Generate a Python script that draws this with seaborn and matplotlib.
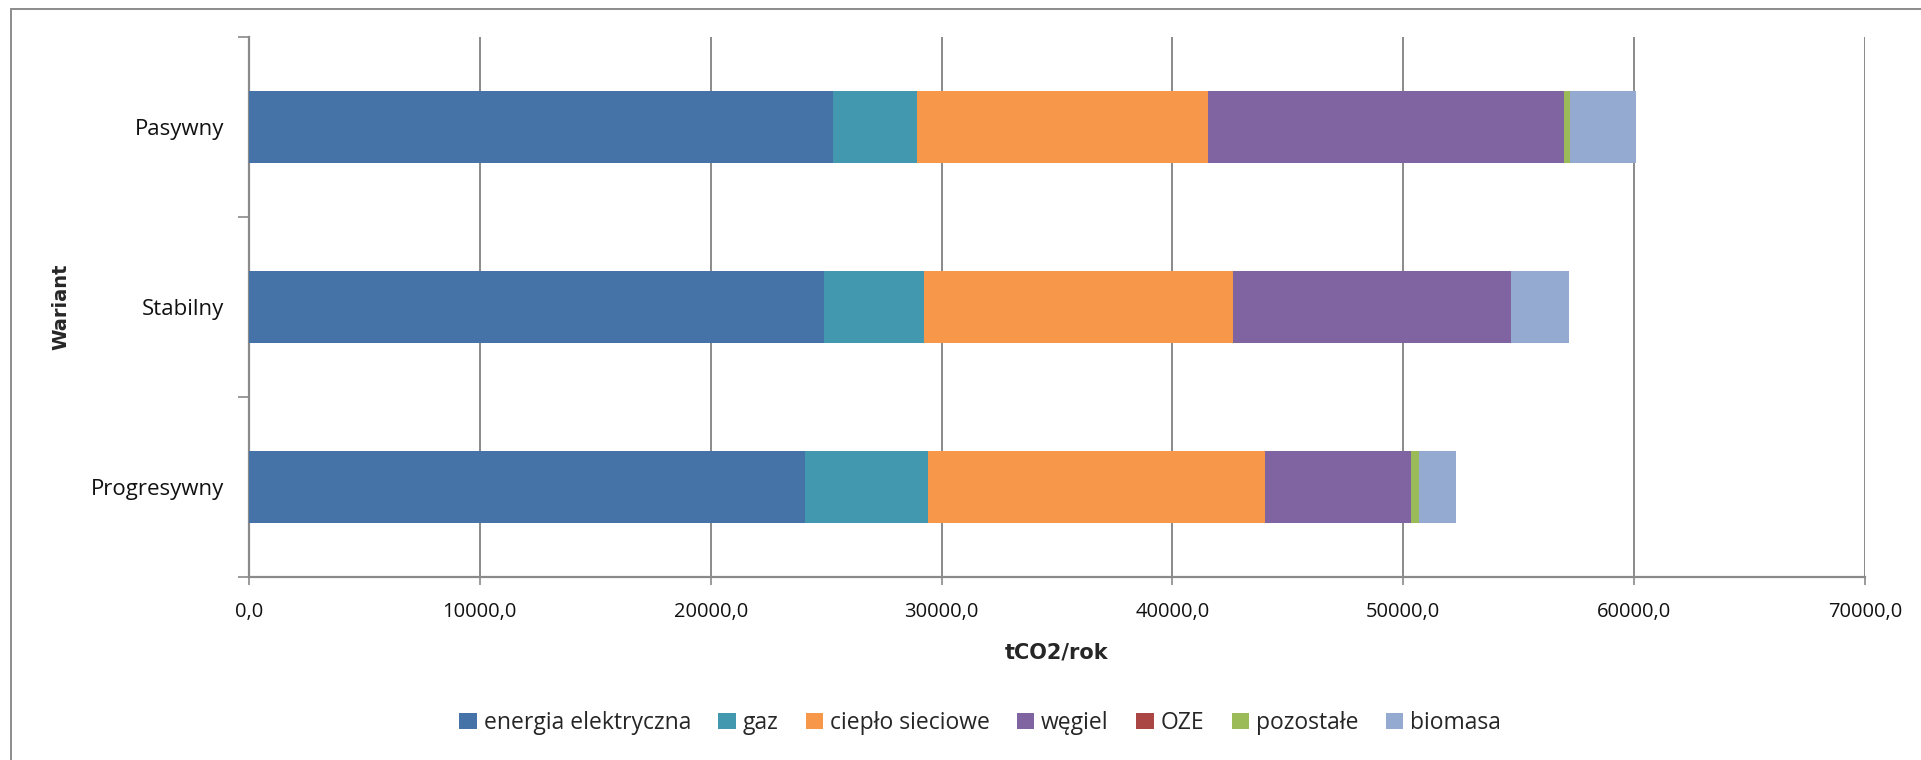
import numpy as np
import pandas as pd
import matplotlib
matplotlib.use("Agg")
import matplotlib.pyplot as plt
from matplotlib.patches import Rectangle, Patch
from matplotlib.ticker import FixedLocator, FuncFormatter
import seaborn as sns

# Emission data per scenario [tCO2/rok]
warianty = ["Pasywny", "Stabilny", "Progresywny"]
energia_elektryczna = [25290, 24920, 24090]
gaz = [3650, 4320, 5330]
cieplo_sieciowe = [12600, 13370, 14595]
wegiel = [15420, 12050, 6310]
oze = [0, 0, 0]
pozostale = [260, 0, 345]
biomasa = [2880, 2500, 1600]

nosniki = ["energia elektryczna", "gaz", "ciepło sieciowe", "węgiel", "OZE", "pozostałe", "biomasa"]
kolory = ["#4572A7", "#4198AF", "#F69749", "#8064A2", "#AA4643", "#9BBB59", "#95AAD0"]

df = pd.DataFrame({
    "Wariant": warianty,
    "energia elektryczna": energia_elektryczna,
    "gaz": gaz,
    "ciepło sieciowe": cieplo_sieciowe,
    "węgiel": wegiel,
    "OZE": oze,
    "pozostałe": pozostale,
    "biomasa": biomasa,
})
cum = df[nosniki].cumsum(axis=1)
cum["Wariant"] = df["Wariant"]

sns.set_theme(style="white")
plt.rcParams["font.family"] = ["Open Sans", "DejaVu Sans"]

fig = plt.figure(figsize=(19.21, 7.6), dpi=100)
ax = fig.add_axes([249 / 1921, 1 - 577 / 760, 1616 / 1921, 540 / 760])

# Stacked bars: draw cumulative totals from the outermost layer inward
for name, col in reversed(list(zip(nosniki, kolory))):
    sns.barplot(data=cum, x=name, y="Wariant", order=warianty, orient="y",
                color=col, width=0.4, linewidth=0, saturation=1, ax=ax, zorder=3)

ax.set_xlim(0, 70000)
ax.set_ylim(2.5, -0.5)

grid_col = "#8A8A8A"
ax.xaxis.set_major_locator(FixedLocator(np.arange(0, 70001, 10000)))
ax.xaxis.set_major_formatter(FuncFormatter(lambda v, p: f"{v:.1f}".replace(".", ",")))
ax.grid(axis="x", color=grid_col, linewidth=1.4, zorder=0)
ax.grid(axis="y", visible=False)

for s in ["top", "right"]:
    ax.spines[s].set_visible(False)
for s in ["left", "bottom"]:
    ax.spines[s].set_color(grid_col)
    ax.spines[s].set_linewidth(1.6)

ax.tick_params(axis="x", which="major", bottom=True, direction="out", length=6,
               width=1.2, color=grid_col, pad=12, labelsize=14.5, labelcolor="#111111")
ax.yaxis.set_minor_locator(FixedLocator([-0.5, 0.5, 1.5, 2.5]))
ax.tick_params(axis="y", which="major", left=False, length=0, pad=18,
               labelsize=16, labelcolor="#111111")
ax.tick_params(axis="y", which="minor", left=True, direction="out", length=8,
               width=1.2, color=grid_col)

bold_font = ["Liberation Sans Narrow", "DejaVu Sans"]
ax.set_xlabel("tCO2/rok", fontsize=15, fontweight="bold", family=bold_font)
ax.xaxis.set_label_coords(0.5, -0.1407)
ax.xaxis.label.set_va("center")
ax.set_ylabel("Wariant", fontsize=14, fontweight="bold", family=bold_font)
ax.yaxis.set_label_coords(-0.1163, 0.5)
ax.yaxis.label.set_va("center")

handles = [Patch(facecolor=c, edgecolor="none") for c in kolory]
fig.legend(handles, nosniki, loc="center", bbox_to_anchor=(980 / 1921, 1 - 723 / 760),
           ncol=7, frameon=False, handlelength=0.75, handleheight=0.75,
           handletextpad=0.3, columnspacing=1.2,
           prop={"family": ["Open Sans", "DejaVu Sans"], "size": 16.5})

# Chart-area frame
fig.patches.append(Rectangle((11 / 1921, -0.05), 1.0, 1 - 9.5 / 760 + 0.05,
                             transform=fig.transFigure, fill=False,
                             edgecolor="#8C8C8C", linewidth=1.4))

fig.savefig("out.png", dpi=100)
